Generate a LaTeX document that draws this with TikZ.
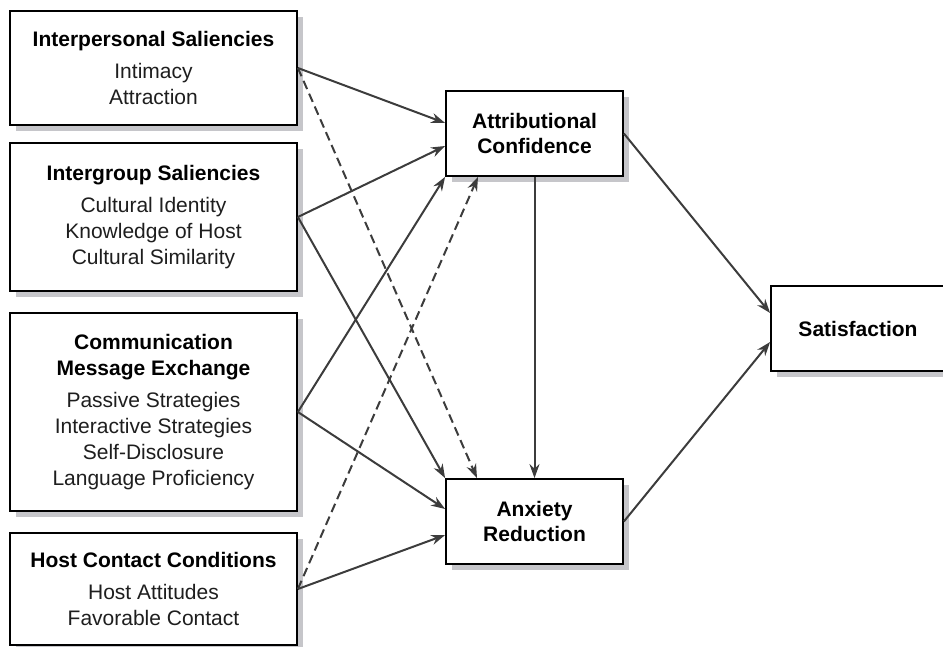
\documentclass[tikz,border=0pt]{standalone}
\usepackage{fontspec}
\setmainfont{Liberation Sans}
\usetikzlibrary{arrows.meta,shadows}
\definecolor{shadowgray}{RGB}{198,198,202}
\definecolor{linegray}{RGB}{60,60,60}
\definecolor{textgray}{RGB}{30,30,30}
\begin{document}
\begin{tikzpicture}[x=1pt,y=-1pt,
  box/.style={draw=black, line width=1.8pt, fill=white, rectangle, inner sep=0pt,
    align=center, text=textgray, font=\fontsize{21}{26}\selectfont,
    drop shadow={shadow xshift=6pt, shadow yshift=-6pt, fill=shadowgray, opacity=1, draw=none}},
  headbox/.style={box, font=\bfseries\fontsize{21}{25}\selectfont, text=black},
  flow/.style={draw=linegray, line width=2pt, -{Stealth[length=14pt,width=10pt]}},
  dflow/.style={flow, dash pattern=on 9pt off 5pt}
]
\useasboundingbox (0,0) rectangle (943,647);

% left-hand antecedent boxes
\node[box, minimum width=287pt, minimum height=114pt] (is) at (153.5,68)
  {{\bfseries\color{black}Interpersonal Saliencies}\\[6pt]Intimacy\\Attraction};
\node[box, minimum width=287pt, minimum height=148pt] (ig) at (153.5,217)
  {{\bfseries\color{black}Intergroup Saliencies}\\[6pt]Cultural Identity\\Knowledge of Host\\Cultural Similarity};
\node[box, minimum width=287pt, minimum height=198pt] (cm) at (153.5,412)
  {{\bfseries\color{black}Communication}\\{\bfseries\color{black}Message Exchange}\\[6pt]Passive Strategies\\Interactive Strategies\\Self-Disclosure\\Language Proficiency};
\node[box, minimum width=287pt, minimum height=112pt] (hc) at (153.5,589)
  {{\bfseries\color{black}Host Contact Conditions}\\[6pt]Host Attitudes\\Favorable Contact};

% mediating and outcome boxes
\node[headbox, minimum width=177pt, minimum height=85pt] (ac) at (534.5,133.5)
  {Attributional\\Confidence};
\node[headbox, minimum width=177pt, minimum height=85pt] (ar) at (534.5,521.5)
  {Anxiety\\Reduction};
\node[headbox, minimum width=174pt, minimum height=85pt] (sa) at (858,328.5)
  {Satisfaction};

% paths into attributional confidence
\draw[flow] (is.east) -- ([yshift=10.5pt]ac.west);
\draw[flow] (ig.east) -- ([yshift=-12.5pt]ac.west);
\draw[flow] (cm.east) -- (ac.south west);
\draw[dflow] (hc.east) -- ([xshift=-56.5pt]ac.south);

% paths into anxiety reduction
\draw[dflow] (is.east) -- ([xshift=-57.5pt]ar.north);
\draw[flow] (ig.east) -- (ar.north west);
\draw[flow] (cm.east) -- ([yshift=12.5pt]ar.west);
\draw[flow] (hc.east) -- ([yshift=-13.5pt]ar.west);
\draw[flow] (ac.south) -- (ar.north);

% paths into satisfaction
\draw[flow] (ac.east) -- ([yshift=15.5pt]sa.west);
\draw[flow] (ar.east) -- ([yshift=-13.5pt]sa.west);
\end{tikzpicture}
\end{document}
